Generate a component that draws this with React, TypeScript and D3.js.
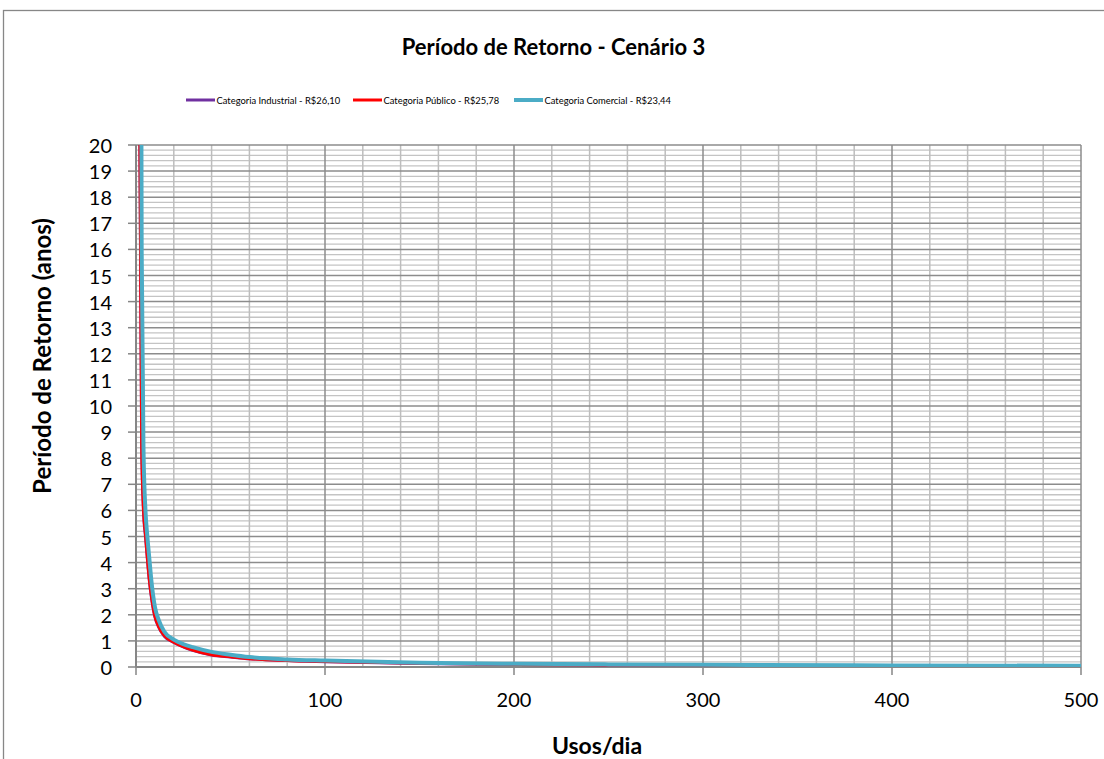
import * as d3 from "d3";
import React from "react";

// usos por dia (eixo x) e período de retorno em anos para cada categoria
const usos = [2, 3, 4, 5, 6, 7, 8, 10, 12, 15, 20, 25, 30, 40, 50, 60, 80, 100, 150, 200, 250, 300, 400, 500];
const industrial = [20.5, 8.5, 5.9, 5.0, 4.15, 3.35, 2.75, 1.92, 1.53, 1.18, 0.94, 0.77, 0.64, 0.46, 0.385, 0.315, 0.245, 0.205, 0.138, 0.098, 0.079, 0.065, 0.049, 0.039];
const publico = [21, 8.6, 6.0, 5.1, 4.2, 3.4, 2.8, 1.95, 1.55, 1.2, 0.95, 0.78, 0.65, 0.47, 0.39, 0.32, 0.25, 0.21, 0.14, 0.1, 0.08, 0.066, 0.05, 0.04];
const comercial = [48, 16, 8.2, 6.0, 5.0, 4.2, 3.4, 2.3, 1.8, 1.35, 1.05, 0.88, 0.76, 0.58, 0.47, 0.38, 0.29, 0.245, 0.165, 0.125, 0.1, 0.082, 0.062, 0.048];

const seriesNames = [
  "Categoria Industrial - R$26,10",
  "Categoria Público - R$25,78",
  "Categoria Comercial - R$23,44",
];
const seriesColors = ["#7030a0", "#ff0000", "#4bacc6"];
const seriesWidths = [3, 3, 4];

const xTicks = [0, 100, 200, 300, 400, 500];
const yTicks = d3.range(0, 21);

const W = 1104;
const H = 759;
const plot = { left: 136, right: 1081, top: 145, bottom: 667 };
const font = "Lato, 'Open Sans', sans-serif";

export default function App() {
  const x = d3.scaleLinear().domain([0, 500]).range([plot.left, plot.right]);
  const y = d3.scaleLinear().domain([0, 20]).range([plot.bottom, plot.top]);

  const line = d3
    .line<[number, number]>()
    .x((d) => x(d[0]))
    .y((d) => y(d[1]))
    .curve(d3.curveMonotoneX);

  const allSeries = [industrial, publico, comercial];

  // minor grid: every 0.2 on y, every 20 on x
  const yMinor = d3.range(1, 100).map((i) => i * 0.2).filter((v) => Math.abs(v - Math.round(v)) > 1e-6);
  const xMinor = d3.range(20, 500, 20).filter((v) => v % 100 !== 0);

  const legendItems = [
    { x0: 186, x1: 215 },
    { x0: 353, x1: 382 },
    { x0: 514, x1: 543 },
  ];
  const legendY = 100;

  return (
    <svg
      width={W}
      height={H}
      style={{ position: "fixed", left: 0, top: 0, background: "#fff" }}
      fontFamily={font}
    >
      <defs>
        <clipPath id="plotClip">
          <rect x={plot.left} y={plot.top} width={plot.right - plot.left} height={plot.bottom - plot.top} />
        </clipPath>
      </defs>
      <rect x={0} y={0} width={W} height={H} fill="#fff" />
      {/* chart frame */}
      <rect x={3.5} y={10.5} width={W + 20} height={H + 20} fill="none" stroke="#878787" strokeWidth={1.3} />

      <text x={553.5} y={55} textAnchor="middle" fontSize={22} fontWeight="bold" fill="#000">
        Período de Retorno - Cenário 3
      </text>

      {/* legend */}
      {seriesNames.map((name, i) => (
        <g key={name}>
          <line
            x1={legendItems[i].x0}
            x2={legendItems[i].x1}
            y1={legendY}
            y2={legendY}
            stroke={seriesColors[i]}
            strokeWidth={seriesWidths[i]}
          />
          <text x={legendItems[i].x1 + 1.5} y={legendY + 3.5} fontSize={9.4} fill="#000">
            {name}
          </text>
        </g>
      ))}

      {/* minor grid */}
      {yMinor.map((v) => (
        <line key={"ym" + v} x1={plot.left} x2={plot.right} y1={y(v)} y2={y(v)} stroke="#c4c4c4" strokeWidth={1.3} />
      ))}
      {xMinor.map((v) => (
        <line key={"xm" + v} x1={x(v)} x2={x(v)} y1={plot.top} y2={plot.bottom} stroke="#bdbdbd" strokeWidth={1.5} />
      ))}
      {/* major grid */}
      {yTicks.map((v) => (
        <line key={"yM" + v} x1={plot.left} x2={plot.right} y1={y(v)} y2={y(v)} stroke="#8c8c8c" strokeWidth={1.5} />
      ))}
      {xTicks.map((v) => (
        <line key={"xM" + v} x1={x(v)} x2={x(v)} y1={plot.top} y2={plot.bottom} stroke="#8c8c8c" strokeWidth={1.5} />
      ))}

      {/* axes */}
      <line x1={plot.left} x2={plot.left} y1={plot.top} y2={plot.bottom} stroke="#868686" strokeWidth={2} />
      <line x1={plot.left} x2={plot.right} y1={plot.bottom} y2={plot.bottom} stroke="#868686" strokeWidth={2} />
      {yTicks.map((v) => (
        <g key={"yt" + v}>
          <line x1={plot.left - 8} x2={plot.left} y1={y(v)} y2={y(v)} stroke="#868686" strokeWidth={1.5} />
          <text x={112} y={y(v)} textAnchor="end" dominantBaseline="central" fontSize={20} fill="#000">
            {v}
          </text>
        </g>
      ))}
      {xTicks.map((v) => (
        <g key={"xt" + v}>
          <line x1={x(v)} x2={x(v)} y1={plot.bottom} y2={plot.bottom + 8} stroke="#868686" strokeWidth={1.5} />
          <text x={x(v)} y={707} textAnchor="middle" fontSize={20} fill="#000">
            {v}
          </text>
        </g>
      ))}

      {/* series */}
      <g clipPath="url(#plotClip)">
        {allSeries.map((vals, i) => (
          <path
            key={seriesNames[i]}
            d={line(usos.map((u, j) => [u, vals[j]] as [number, number])) ?? ""}
            fill="none"
            stroke={seriesColors[i]}
            strokeWidth={seriesWidths[i]}
            strokeLinejoin="round"
          />
        ))}
      </g>

      {/* axis titles */}
      <text x={597} y={754} textAnchor="middle" fontSize={23} fontWeight="bold" fill="#000">
        Usos/dia
      </text>
      <text
        transform={`translate(51, 356) rotate(-90)`}
        textAnchor="middle"
        fontSize={24}
        fontWeight="bold"
        fill="#000"
      >
        Período de Retorno (anos)
      </text>
    </svg>
  );
}
